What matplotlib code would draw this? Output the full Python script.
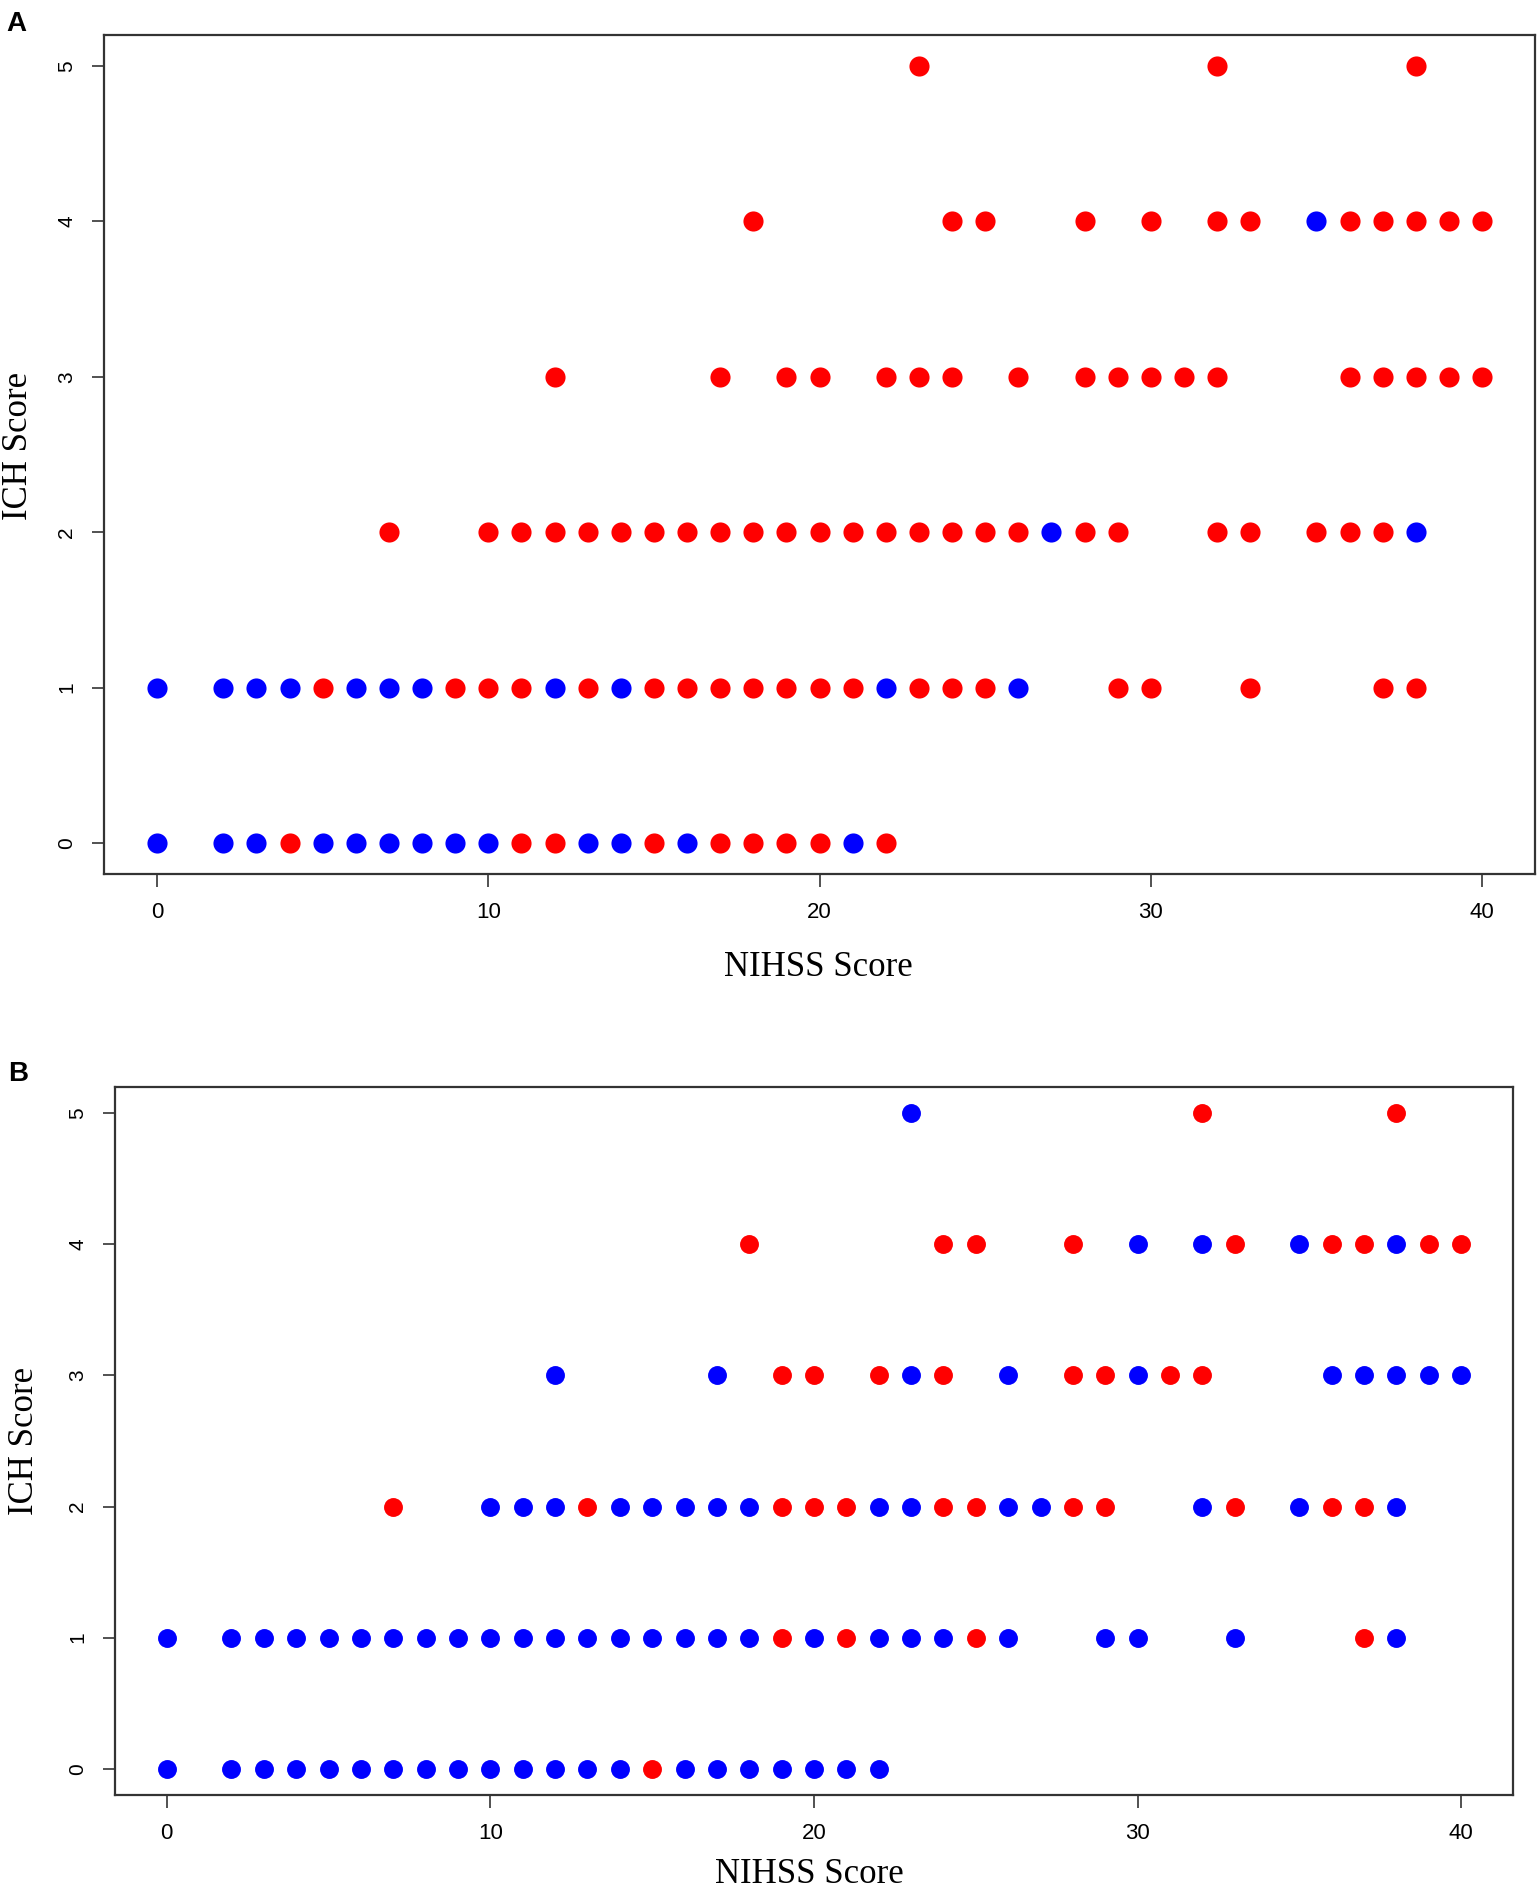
import matplotlib
matplotlib.use("Agg")
import matplotlib.pyplot as plt

# ---------------- Panel A ----------------
A_red = {
    0: [4, 11, 12, 15, 17, 18, 19, 20, 22],
    1: [5, 9, 10, 11, 13, 15, 16, 17, 18, 19, 20, 21, 23, 24, 25, 29, 30, 33, 37, 38],
    2: [7, 10, 11, 12, 13, 14, 15, 16, 17, 18, 19, 20, 21, 22, 23, 24, 25, 26, 28, 29, 32, 33, 35, 36, 37],
    3: [12, 17, 19, 20, 22, 23, 24, 26, 28, 29, 30, 31, 32, 36, 37, 38, 39, 40],
    4: [18, 24, 25, 28, 30, 32, 33, 36, 37, 38, 39, 40],
    5: [23, 32, 38],
}
A_blue = {
    0: [0, 2, 3, 5, 6, 7, 8, 9, 10, 13, 14, 16, 21],
    1: [0, 2, 3, 4, 6, 7, 8, 12, 14, 22, 26],
    2: [27, 38],
    3: [],
    4: [35],
    5: [],
}

# ---------------- Panel B ----------------
B_red = {
    0: [15],
    1: [19, 21, 25, 37],
    2: [7, 13, 19, 20, 21, 24, 25, 28, 29, 33, 36, 37],
    3: [19, 20, 22, 24, 28, 29, 31, 32],
    4: [18, 24, 25, 28, 33, 36, 37, 39, 40],
    5: [32, 38],
}
B_blue = {
    0: [0, 2, 3, 4, 5, 6, 7, 8, 9, 10, 11, 12, 13, 14, 16, 17, 18, 19, 20, 21, 22],
    1: [0, 2, 3, 4, 5, 6, 7, 8, 9, 10, 11, 12, 13, 14, 15, 16, 17, 18, 20, 22, 23, 24, 26, 29, 30, 33, 38],
    2: [10, 11, 12, 14, 15, 16, 17, 18, 22, 23, 26, 27, 32, 35, 38],
    3: [12, 17, 23, 26, 30, 36, 37, 38, 39, 40],
    4: [30, 32, 35, 38],
    5: [23],
}

x_ticks = [0, 10, 20, 30, 40]
y_ticks = [0, 1, 2, 3, 4, 5]
x_label = "NIHSS Score"
y_label = "ICH Score"

RED = "#FF0000"
BLUE = "#0000FF"

fig = plt.figure(figsize=(15.39, 18.95), dpi=100)


def flatten(d):
    xs, ys = [], []
    for lvl, vals in d.items():
        for v in vals:
            xs.append(v)
            ys.append(lvl)
    return xs, ys


def draw(ax, red, blue, size):
    bx, by = flatten(blue)
    rx, ry = flatten(red)
    ax.scatter(bx, by, s=size, c=BLUE, linewidths=0, zorder=3)
    ax.scatter(rx, ry, s=size, c=RED, linewidths=0, zorder=3)
    ax.set_xlim(-1.6, 41.6)
    ax.set_ylim(-0.2, 5.2)
    ax.set_xticks(x_ticks)
    ax.set_yticks(y_ticks)
    ax.set_xticklabels([str(t) for t in x_ticks],
                       family=["Liberation Sans Narrow", "Liberation Sans"], fontsize=16)
    ax.set_yticklabels([str(t) for t in y_ticks],
                       family=["Liberation Sans", "DejaVu Sans"], fontsize=15,
                       rotation=90, va="center")
    ax.tick_params(axis="both", direction="out", length=9, width=1.2,
                   color="#333333", pad=11)
    for sp in ax.spines.values():
        sp.set_linewidth(1.6)
        sp.set_color("#333333")
    ax.set_xlabel(x_label, family="Liberation Serif", fontsize=25, va="center")
    ax.set_ylabel(y_label, family="Liberation Serif", fontsize=25, va="center")


axA = fig.add_axes([0.0676, 0.5388, 0.9298, 0.4427])
draw(axA, A_red, A_blue, 210)
axA.xaxis.set_label_coords(0.499, -0.112)
axA.yaxis.set_label_coords(-0.060, 0.51)

axB = fig.add_axes([0.0747, 0.0528, 0.9084, 0.3736])
draw(axB, B_red, B_blue, 185)
axB.xaxis.set_label_coords(0.497, -0.112)
axB.yaxis.set_label_coords(-0.065, 0.50)

fig.text(6 / 1539, 1 - 24 / 1895, "A", fontsize=20, fontweight="bold",
         family="Liberation Sans", va="center", ha="left")
fig.text(8 / 1539, 1 - 1074 / 1895, "B", fontsize=20, fontweight="bold",
         family="Liberation Sans", va="center", ha="left")

fig.savefig("out.png", dpi=100, facecolor="white")
